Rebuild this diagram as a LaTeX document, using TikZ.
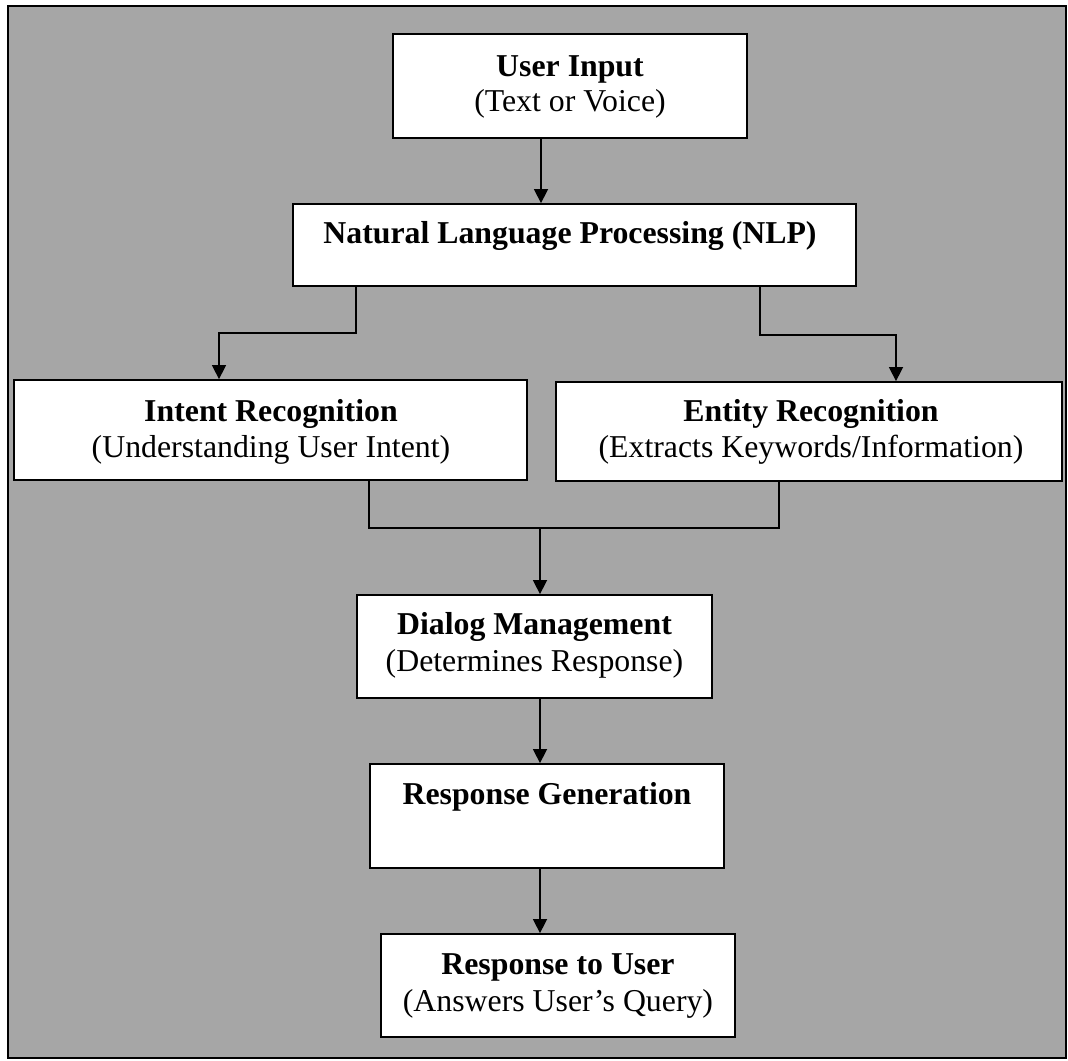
\documentclass[tikz,border=0pt]{standalone}
\usepackage{fontspec}
\setmainfont{Liberation Serif}
\usetikzlibrary{arrows.meta}
\definecolor{bg}{RGB}{166,166,166}
\begin{document}
\begin{tikzpicture}[x=1pt,y=-1pt,
  box/.style={draw=black, line width=1.8pt, fill=white, inner sep=0pt},
  ttl/.style={anchor=base, inner sep=0pt, font=\fontsize{31.8}{36}\selectfont\bfseries},
  sub/.style={anchor=base, inner sep=0pt, font=\fontsize{31.8}{36}\selectfont},
  link/.style={line width=1.5pt, draw=black},
  conn/.style={link, -{Triangle[width=14pt,length=14pt]}}]
\useasboundingbox (0,0) rectangle (1068,1060);
\fill[white] (0,0) rectangle (1068,1060);
\draw[line width=1.8pt, fill=bg] (8,6) rectangle (1066,1058);

% boxes
\node[box, minimum width=354pt, minimum height=104pt] (ui) at (570,86) {};
\node[ttl] (uit) at (570,76) {User Input};
\node[sub] (uis) at (570,111) {(Text or Voice)};

\node[box, minimum width=563pt, minimum height=82pt] (nlp) at (574.5,245) {};
\node[ttl] (nlpt) at (570,243) {Natural Language Processing (NLP)};

\node[box, minimum width=513pt, minimum height=100pt] (intent) at (270.5,430) {};
\node[ttl] (intentt) at (271,421) {Intent Recognition};
\node[sub] (intents) at (271,457) {(Understanding User Intent)};

\node[box, minimum width=506pt, minimum height=99pt] (entity) at (809,431.5) {};
\node[ttl] (entityt) at (811,421) {Entity Recognition};
\node[sub] (entitys) at (811,457) {(Extracts Keywords/Information)};

\node[box, minimum width=355pt, minimum height=103pt] (dialog) at (534.5,646.5) {};
\node[ttl] (dialogt) at (534.5,634) {Dialog Management};
\node[sub] (dialogs) at (534.5,671) {(Determines Response)};

\node[box, minimum width=354pt, minimum height=104pt] (gen) at (547,816) {};
\node[ttl] (gent) at (547,804) {Response Generation};

\node[box, minimum width=354pt, minimum height=103pt] (resp) at (558,985.5) {};
\node[ttl] (respt) at (558,974) {Response to User};
\node[sub] (resps) at (558,1011) {(Answers User’s Query)};

% routing points
\coordinate (ux) at (541,0);
\coordinate (l1) at (356,333);
\coordinate (l2) at (219,333);
\coordinate (r1) at (760,335);
\coordinate (r2) at (896,335);
\coordinate (j1) at (369,528);
\coordinate (j2) at (779,528);
\coordinate (jm) at (540,528);
\coordinate (cx) at (540,0);

% connectors
\draw[conn] (ui.south -| ux) -- (nlp.north -| ux);
\draw[conn] (nlp.south -| l1) -- (l1) -- (l2) -- (intent.north -| l2);
\draw[conn] (nlp.south -| r1) -- (r1) -- (r2) -- (entity.north -| r2);
\draw[link] (intent.south -| j1) -- (j1) -- (j2) -- (entity.south -| j2);
\draw[conn] (jm) -- (dialog.north -| jm);
\draw[conn] (dialog.south -| cx) -- (gen.north -| cx);
\draw[conn] (gen.south -| cx) -- (resp.north -| cx);
\end{tikzpicture}
\end{document}
